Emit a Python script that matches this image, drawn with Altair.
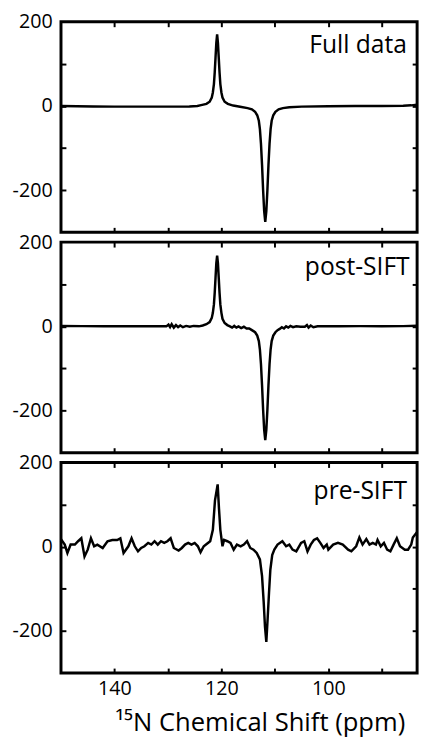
import altair as alt
import pandas as pd

# ---------------- data ----------------
full_ppm = [150, 147, 144, 140, 136, 132, 128, 126, 124.5, 123.8, 122.8, 122.2, 121.8, 121.6,
            121.4, 121.25, 121.1, 120.95, 120.8, 120.65, 120.5, 120.35, 120.2, 120.0, 119.8,
            119.4, 118.8, 117.8, 116.5, 115.1, 114.3, 113.7, 113.3, 113.0, 112.8, 112.6, 112.4,
            112.2, 112.0, 111.8, 111.6, 111.4, 111.2, 111.0, 110.8, 110.6, 110.3, 109.9, 109.3,
            108.5, 107.3, 105, 100, 95, 90, 86, 84.5, 83.4]
full_val = [0, -0.5, -1, -1.5, -1.5, -1.5, -1.5, -1, 0, 2, 5, 10, 20, 32,
            52, 80, 115, 150, 170, 150, 115, 80, 52, 32, 20,
            10, 5, 1, -2, -5, -8, -14, -22, -35, -55, -90, -140,
            -200, -250, -275, -250, -200, -140, -90, -55, -35, -22, -14, -8,
            -5, -3, -1.5, -0.5, 0, 0, 0.5, 1.5, 3]

post_ppm = [150, 146, 142, 138, 134, 131, 130.3, 129.9, 129.6, 129.3, 128.9, 128.5, 128.1,
            127.7, 127.2, 126.6, 125.9, 125.2, 124.2, 123.5, 122.8, 122.2, 121.8, 121.6,
            121.4, 121.25, 121.1, 120.95, 120.8, 120.65, 120.5, 120.35, 120.2, 120.0, 119.8,
            119.4, 118.9, 118.4, 118.0, 117.6, 117.2, 116.8, 116.3, 115.8, 115.3, 114.8,
            114.3, 113.7, 113.3, 113.0, 112.8, 112.6, 112.4, 112.2, 112.0, 111.8, 111.6,
            111.4, 111.2, 111.0, 110.8, 110.6, 110.3, 109.9, 109.5, 109.1, 108.7, 108.3,
            107.9, 107.5, 107.1, 106.6, 106.0, 105.2, 104.4, 104.0, 103.7, 103.3, 102.8,
            102.0, 98, 94, 90, 86, 83.4]
post_val = [1, 0.5, 0, 0, 0, 0.5, 0, 4, -2, 5, -3, 3, -2,
            2, -2, 1, -1, 1, 0, 2, 5, 10, 20, 32,
            52, 80, 115, 150, 168, 150, 115, 80, 52, 32, 18,
            8, 3, 0, -3, 1, -3, 0, -4, -1, -5, -5,
            -9, -14, -22, -35, -55, -90, -140, -198, -246, -270, -246,
            -198, -140, -90, -55, -35, -22, -14, -9, -6, -2, -5,
            0, -3, 1, -2, 0, -1, -1, 3, -3, 2, -2,
            0, 0, 0.5, 0, 0.5, 1.5]

pre_ppm = [150.0, 149.9, 149.3, 148.8, 148.2, 147.4, 146.8, 146.2, 145.6, 145.0, 144.4, 143.8,
           143.2, 142.2, 141.3, 140.4, 139.5, 138.9, 138.3, 137.4, 136.8, 136.2, 135.6, 135.0,
           134.4, 133.7, 133.1, 132.5, 131.9, 131.3, 130.7, 130.1, 129.5, 128.9, 128.0, 127.4,
           126.8, 126.2, 125.6, 125.0, 124.4, 123.9, 123.3, 122.7, 122.1, 121.6, 121.2, 120.7,
           120.45, 120.2, 119.8, 119.5, 118.9, 118.3, 117.7, 117.1, 116.4, 115.8, 115.2, 114.6,
           114.0, 113.4, 112.8, 112.4, 112.1, 111.85, 111.6, 111.35, 111.1, 110.85, 110.5, 110.1,
           109.5, 108.6, 107.9, 107.3, 106.7, 106.0, 105.1, 104.5, 103.9, 103.3, 102.7, 102.1,
           101.5, 100.9, 100.3, 100.0, 99.1, 98.2, 97.3, 96.3, 95.7, 94.8, 94.2, 93.6, 92.9,
           92.3, 91.7, 91.1, 90.8, 90.2, 89.6, 89.0, 88.4, 87.8, 87.2, 86.6, 85.7, 85.1, 84.5,
           84.2, 83.4]
pre_val = [12, 16, 5, -15, 5, 5, 13, 20, -23, -7, 20, 1,
           5, -3, 13, 16, 16, 20, -15, 1, 20, 1, -11, -3,
           1, 9, 5, 13, 5, 13, 9, 13, 20, -3, -9, -3,
           5, 9, 5, 9, 1, -13, 1, 7, 13, 40, 110, 148,
           90, 40, 1, 16, 13, 9, -7, 5, 1, 5, 13, -3,
           -7, -15, -30, -70, -130, -190, -226, -170, -110, -55, -20, -7,
           5, 13, 1, 5, -7, -11, 9, 13, -11, 5, 16, 20,
           9, -3, 5, -7, 5, 9, 5, -7, -11, 1, 22, 5, 18,
           5, 9, 5, 16, 1, 9, -7, -11, 5, 20, 1, -7, -7, 5,
           22, 35]

panel_labels = ["Full data", "post-SIFT", "pre-SIFT"]
label_ppm = [85.3, 84.8, 85.3]
label_val = [125, 122, 113]

x_domain = [83.4, 150]
y_domain = [-300, 200]
x_label_values = [140, 120, 100]
x_tick_values = [140, 130, 120, 110, 100, 90]
y_label_values = [200, 0, -200]
y_tick_values = [100, 0, -100, -200]
x_title = "\u00b9\u2075N Chemical Shift (ppm)"

# ---------------- styling ----------------
W, H = 362, 214
FONT = "Open Sans"


def tick_axis(orient, offset, values):
    return alt.Axis(orient=orient, offset=offset, values=values, labels=False,
                    domain=False, grid=False, ticks=True, tickSize=5, tickWidth=2,
                    tickColor="black", title=None)


def panel(ppm, val, label, lx, ly, bottom):
    df = pd.DataFrame({"ppm": ppm, "val": val})
    lab = pd.DataFrame({"ppm": [lx], "val": [ly], "label": [label]})
    xs = alt.Scale(domain=x_domain, reverse=True, nice=False, zero=False)
    ys = alt.Scale(domain=y_domain, nice=False, zero=False)

    if bottom:
        x_axis = alt.Axis(orient="bottom", values=x_label_values, ticks=False, tickSize=0,
                          domain=False, grid=False, labelFont=FONT, labelFontSize=20,
                          labelColor="black", labelPadding=6, title=x_title,
                          titleFont=FONT, titleFontSize=26, titleFontWeight="normal",
                          titleColor="black", titlePadding=11, titleX=202)
    else:
        x_axis = alt.Axis(orient="bottom", values=x_label_values, ticks=False, tickSize=0,
                          domain=False, grid=False, labels=False, title=None)
    y_axis = alt.Axis(orient="left", values=y_label_values, ticks=False, tickSize=0,
                      domain=False, grid=False, labelFont=FONT, labelFontSize=20,
                      labelColor="black", labelPadding=9, labelExpr="toString(datum.value)",
                      title=None)

    line = alt.Chart(df).mark_line(color="black", strokeWidth=2.5).encode(
        x=alt.X("ppm:Q", scale=xs, axis=x_axis),
        y=alt.Y("val:Q", scale=ys, axis=y_axis),
    )
    text = alt.Chart(lab).mark_text(align="right", baseline="alphabetic", font=FONT,
                                    fontSize=25, color="black").encode(
        x=alt.X("ppm:Q", scale=xs, axis=tick_axis("top", -H, x_tick_values)),
        y=alt.Y("val:Q", scale=ys, axis=tick_axis("right", -W, y_tick_values)),
        text="label:N",
    )
    ghost = alt.Chart(lab).mark_point(opacity=0).encode(
        x=alt.X("ppm:Q", scale=xs, axis=tick_axis("bottom", -H, x_tick_values)),
        y=alt.Y("val:Q", scale=ys, axis=tick_axis("left", -W, y_tick_values)),
    )
    return alt.layer(line, text, ghost).resolve_axis(
        x="independent", y="independent").properties(width=W, height=H)


p1 = panel(full_ppm, full_val, panel_labels[0], label_ppm[0], label_val[0], False)
p2 = panel(post_ppm, post_val, panel_labels[1], label_ppm[1], label_val[1], False)
p3 = panel(pre_ppm, pre_val, panel_labels[2], label_ppm[2], label_val[2], True)

chart = alt.vconcat(p1, p2, p3, spacing=10, bounds="flush").properties(
    padding={"left": 10, "top": 4, "right": 0, "bottom": 0}
).configure(
    background="white",
    view=alt.ViewConfig(stroke="black", strokeWidth=3),
)

chart.save("out.html", embed_options={"renderer": "svg", "actions": False})
